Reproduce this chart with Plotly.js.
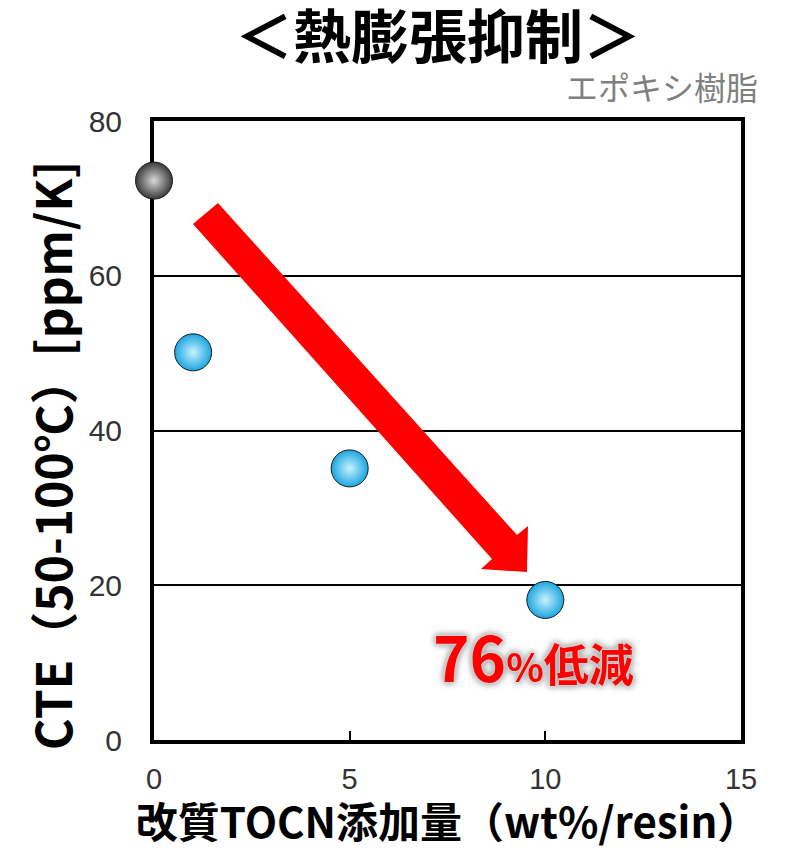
<!DOCTYPE html>
<html>
<head>
<meta charset="utf-8">
<script src="https://cdn.plot.ly/plotly-3.0.1.min.js"></script>
<style>
html,body{margin:0;padding:0;background:#fff;}
#chart{width:787px;height:850px;}
.glow text.annotation-text{filter: drop-shadow(0 0 1.5px #fff) drop-shadow(0 0 3px #999) drop-shadow(0 0 2px #bbb);}
</style>
</head>
<body>
<div id="chart"></div>
<script>
// ---- data ----
const refX = [0];
const refY = [72.3];
const refName = 'エポキシ樹脂';
const tocnX = [1, 5, 10];
const tocnY = [50.1, 35.1, 18.1];
const xTicks = [0, 5, 10, 15];
const yTicks = [0, 20, 40, 60, 80];
const chartTitle = '＜熱膨張抑制＞';
const xTitle = '改質TOCN添加量（wt%/resin）';
const yTitle = 'CTE（50-100℃）[ppm/K]';
const reductionLabel = '<span style="font-size:62px">76</span><span style="font-size:39px">%</span><span style="font-size:45px">低減</span>';

const jp = '"Noto Sans CJK JP", "Noto Sans", sans-serif';

const traces = [
  {
    x: refX, y: refY, type: 'scatter', mode: 'markers', name: refName,
    cliponaxis: false, showlegend: false,
    marker: {size: 37, color: '#3a3a3a', gradient: {type: 'radial', color: '#d8d8d8'},
             line: {color: '#1a1a1a', width: 1}}
  },
  {
    x: tocnX, y: tocnY, type: 'scatter', mode: 'markers', name: '改質TOCN',
    cliponaxis: false, showlegend: false,
    marker: {size: 37, color: '#1ba6e0', gradient: {type: 'radial', color: '#c8f2ff'},
             line: {color: '#1a1a1a', width: 1}}
  }
];

// arrow polygon (decoration, paper coords)
const arrowPath = 'M0.1090,0.8675 L0.6184,0.3312 L0.6371,0.3457 L0.6354,0.2714 L0.5571,0.2763 L0.5758,0.2924 L0.0664,0.8336 Z';

const layout = {
  width: 787, height: 850,
  margin: {l: 154, r: 46, t: 121, b: 110, pad: 0},
  paper_bgcolor: '#fff', plot_bgcolor: '#fff',
  showlegend: false,
  title: {
    text: chartTitle, x: 0.5565, xref: 'container', xanchor: 'center',
    y: 0.9555, yref: 'container', yanchor: 'middle',
    font: {family: jp, size: 58, color: '#000', weight: 'bold'}
  },
  xaxis: {
    range: [0, 15], tickvals: xTicks, ticktext: xTicks.map(String),
    showgrid: false, zeroline: false,
    showline: true, linecolor: '#000', linewidth: 4, mirror: true,
    ticks: 'inside', ticklen: 9, tickwidth: 2, tickcolor: '#000',
    ticklabelstandoff: 10,
    tickfont: {family: '"Liberation Sans", Arial, sans-serif', size: 29, color: '#333333'},
    layer: 'below traces', fixedrange: true,
    title: {text: xTitle, standoff: 6,
            font: {family: jp, size: 42, color: '#000', weight: 'bold'}}
  },
  yaxis: {
    range: [0, 80], tickvals: yTicks, ticktext: yTicks.map(String),
    showgrid: true, gridcolor: '#000', gridwidth: 2, zeroline: false,
    showline: true, linecolor: '#000', linewidth: 4, mirror: true,
    ticks: '', ticklabelstandoff: 22,
    tickfont: {family: '"Liberation Sans", Arial, sans-serif', size: 30, color: '#333333'},
    layer: 'below traces', fixedrange: true
  },
  shapes: [
    {type: 'path', xref: 'paper', yref: 'paper', path: arrowPath,
     fillcolor: '#ff0000', line: {width: 0}, layer: 'above'}
  ],
  annotations: [
    {text: yTitle, xref: 'paper', yref: 'paper', x: -0.1755, y: 0.4604,
     xanchor: 'center', yanchor: 'middle', textangle: -90, showarrow: false,
     font: {family: jp, size: 48, color: '#000', weight: 'bold'}},
    {text: refName, xref: 'paper', yref: 'paper', x: 0.865, y: 1.056,
     xanchor: 'center', yanchor: 'middle', showarrow: false,
     font: {family: jp, size: 32, color: '#808080'}},
    {text: reductionLabel, xref: 'paper', yref: 'paper', x: 0.6457, y: 0.137,
     xanchor: 'center', yanchor: 'middle', showarrow: false,
     font: {family: jp, size: 45, color: '#ff0000', weight: 'bold'}}
  ]
};

Plotly.newPlot('chart', traces, layout, {displayModeBar: false, staticPlot: true}).then(function(gd){
  const anns = gd.querySelectorAll('g.annotation');
  if (anns.length > 2) anns[2].classList.add('glow');
});
</script>
</body>
</html>
